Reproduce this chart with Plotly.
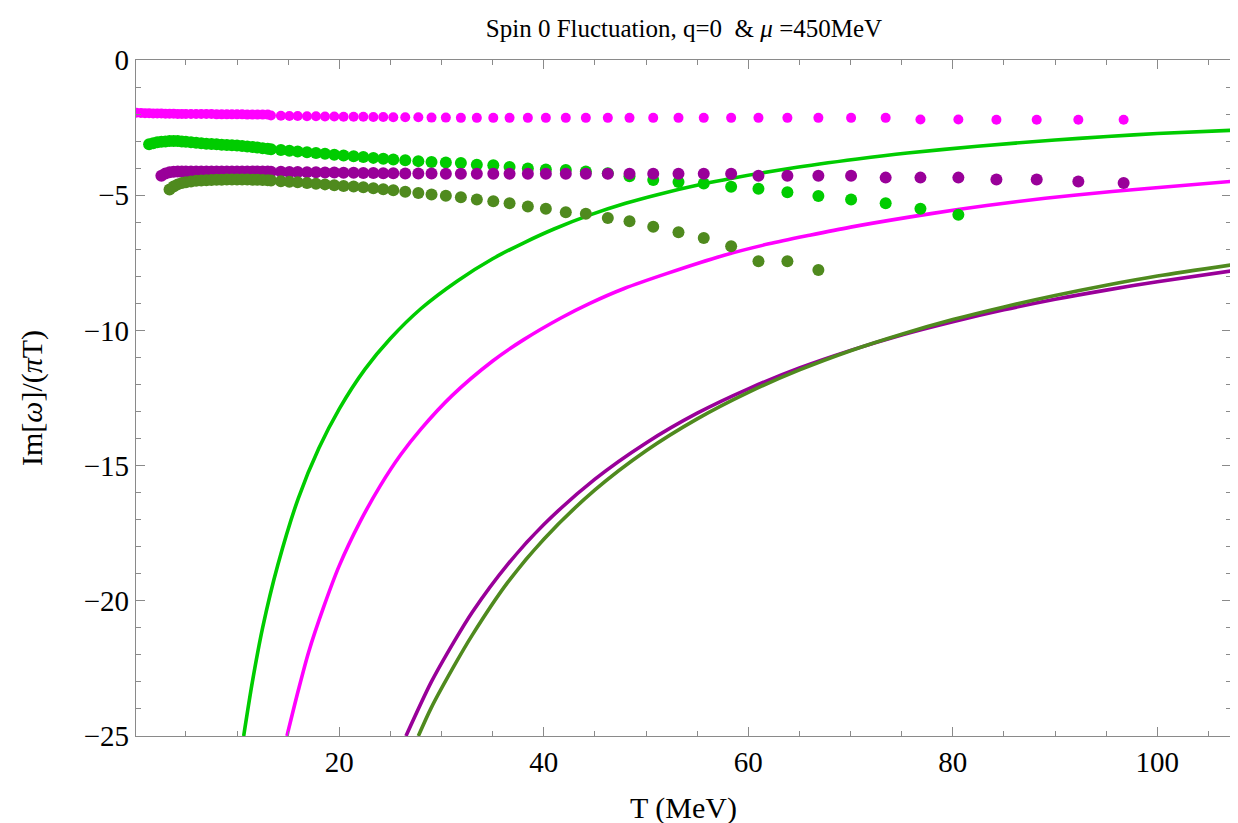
import plotly.graph_objects as go

# ---------------- data ----------------
# shared temperature grid of the dot series (MeV)
T_dots = [0.15, 0.6, 1.0, 1.4, 1.8, 2.2, 2.6, 3.0, 3.4, 3.8, 4.2, 4.6, 5.0, 5.5, 6.0,
          6.5, 7.0, 7.5, 8.0, 8.5, 9.0, 9.5, 10.0, 10.5, 11.0, 11.5, 12.0, 12.5, 13.0,
          13.32, 14.29, 15.12, 15.93, 16.84, 17.72, 18.6, 19.51, 20.42, 21.4, 22.35,
          23.33, 24.3, 25.28, 26.45, 27.73, 29.02, 30.42,
          31.89, 33.45, 35.06, 36.65, 38.44, 40.2, 42.15, 44.11, 46.26, 48.38, 50.7,
          53.17, 55.64, 58.32, 60.99, 63.82, 66.85, 70.05, 73.43, 76.83, 80.54, 84.26,
          88.2, 92.27, 96.7]

# magenta dots (all grid points)
mag_dots = [-1.95, -1.96, -1.97, -1.97, -1.98, -1.98, -1.98, -1.99, -1.99, -1.99, -2.0,
            -2.0, -2.0, -2.0, -2.0, -2.0, -2.0, -2.0, -2.01, -2.01, -2.01, -2.01, -2.01,
            -2.01, -2.02, -2.02, -2.02, -2.02, -2.02,
            -2.05, -2.06, -2.07, -2.07, -2.08, -2.08, -2.09, -2.09, -2.10, -2.10, -2.10,
            -2.11, -2.11, -2.12, -2.12, -2.12, -2.13, -2.13,
            -2.14, -2.14, -2.14, -2.14, -2.14, -2.14, -2.14, -2.14, -2.14, -2.14, -2.14,
            -2.14, -2.14, -2.14, -2.14, -2.14, -2.14, -2.14, -2.14, -2.20, -2.20, -2.21,
            -2.21, -2.21, -2.21]
mag_start = 0

# bright green dots (from T=1.4 up to T=80.54)
grn_dots = [-3.12, -3.08, -3.04, -3.02, -3.01, -3.0, -3.0, -3.0, -3.01, -3.02, -3.04,
            -3.06, -3.08, -3.10, -3.11, -3.12, -3.13, -3.14, -3.15, -3.16, -3.18, -3.20,
            -3.22, -3.24, -3.26, -3.28,
            -3.30, -3.33, -3.36, -3.38, -3.41, -3.44, -3.47, -3.50, -3.53, -3.56, -3.59,
            -3.62, -3.65, -3.68, -3.71, -3.74, -3.77, -3.79,
            -3.81, -3.87, -3.89, -3.96, -4.01, -4.05, -4.07, -4.12, -4.19, -4.30, -4.44,
            -4.51, -4.57, -4.69, -4.76, -4.89, -5.03, -5.16, -5.30, -5.50, -5.72]
grn_start = 3

# purple dots (from T=2.6 up to T=96.7)
pur_dots = [-4.28, -4.20, -4.15, -4.13, -4.12, -4.12, -4.12, -4.12, -4.12, -4.12, -4.12,
            -4.12, -4.12, -4.12, -4.12, -4.12, -4.12, -4.12, -4.12, -4.12, -4.12, -4.12,
            -4.12,
            -4.13, -4.13, -4.14, -4.14, -4.15, -4.15, -4.16, -4.16, -4.17, -4.17, -4.18,
            -4.18, -4.19, -4.19, -4.20, -4.20, -4.20, -4.21,
            -4.21, -4.21, -4.21, -4.21, -4.21, -4.21, -4.21, -4.21, -4.21, -4.21, -4.21,
            -4.21, -4.21, -4.21, -4.28, -4.28, -4.28, -4.28, -4.35, -4.35, -4.35, -4.42,
            -4.42, -4.49, -4.55]
pur_start = 6

# olive dots (from T=3.4 up to T=66.85)
olv_dots = [-4.79, -4.68, -4.60, -4.55, -4.52, -4.49, -4.47, -4.46, -4.45, -4.44, -4.43,
            -4.43, -4.42, -4.42, -4.42, -4.42, -4.42, -4.43, -4.43, -4.44, -4.45,
            -4.46, -4.48, -4.50, -4.52, -4.55, -4.58, -4.60, -4.63, -4.66, -4.68, -4.71,
            -4.74, -4.78, -4.82, -4.87, -4.92, -4.97, -5.02,
            -5.08, -5.16, -5.22, -5.30, -5.42, -5.50, -5.63, -5.69, -5.84, -5.96, -6.17,
            -6.37, -6.58, -6.89, -7.44, -7.44, -7.77]
olv_start = 8

# curves
grn_line_T = [10.65, 11.5, 12.5, 14.0, 16.0, 18.0, 20.0, 22.5, 25.0, 28.0, 31.55, 35.0,
              38.1, 41.0, 44.6, 48.0, 51.1, 55.64, 58.3, 64.15, 70.67, 75.56, 82.4, 90.0,
              95.1, 100.0, 107.2]
grn_line_v = [-25.0, -23.0, -21.0, -18.66, -16.2, -14.36, -12.9, -11.44, -10.3, -9.19,
              -8.17, -7.35, -6.75, -6.25, -5.72, -5.3, -4.98, -4.58, -4.38, -4.0, -3.66,
              -3.44, -3.19, -2.96, -2.83, -2.72, -2.6]

mag_line_T = [14.88, 16.0, 17.0, 18.5, 20.0, 22.0, 24.0, 26.0, 28.0, 31.0, 35.0, 38.0,
              41.67, 44.5, 47.86, 52.0, 57.64, 62.0, 66.0, 70.0, 75.56, 80.5, 86.0,
              91.85, 99.0, 107.2]
mag_line_v = [-25.0, -23.3, -21.9, -20.2, -18.7, -17.1, -15.75, -14.6, -13.64, -12.42,
              -11.13, -10.35, -9.54, -9.0, -8.45, -7.9, -7.22, -6.8, -6.48, -6.18, -5.82,
              -5.53, -5.25, -5.0, -4.75, -4.49]

pur_line_T = [26.52, 29.0, 31.24, 33.0, 36.45, 40.0, 45.0, 50.0, 55.0, 60.0, 65.0, 70.0,
              75.0, 80.0, 85.0, 90.0, 95.0, 100.0, 107.2]
pur_line_v = [-25.0, -23.0, -21.5, -20.42, -18.66, -17.18, -15.5, -14.16, -13.06, -12.16,
              -11.39, -10.74, -10.17, -9.68, -9.24, -8.85, -8.51, -8.2, -7.8]

olv_line_T = [27.73, 29.0, 31.24, 33.0, 36.45, 40.0, 45.0, 50.0, 55.0, 60.0, 65.0, 70.0,
              75.0, 80.0, 85.0, 90.0, 95.0, 100.0, 107.2]
olv_line_v = [-25.0, -23.95, -22.4, -21.27, -19.33, -17.72, -15.9, -14.45, -13.27, -12.29,
              -11.46, -10.75, -10.14, -9.6, -9.13, -8.71, -8.33, -7.99, -7.58]

x_ticks = [20, 40, 60, 80, 100]
y_ticks = [0, -5, -10, -15, -20, -25]

# ---------------- styling ----------------
C_MAG = "#FF00FF"
C_GRN = "#00CC00"
C_PUR = "#990099"
C_OLV = "#4F8A1E"
FONT = "Liberation Serif"
AX = "#8a8a8a"

fig = go.Figure()

for T, v, c in [(grn_line_T, grn_line_v, C_GRN), (mag_line_T, mag_line_v, C_MAG),
                (pur_line_T, pur_line_v, C_PUR), (olv_line_T, olv_line_v, C_OLV)]:
    fig.add_trace(go.Scatter(x=T, y=v, mode="lines",
                             line=dict(color=c, width=3.6, shape="spline", smoothing=0.8),
                             showlegend=False, hoverinfo="skip"))

for start, v, c, sz in [(mag_start, mag_dots, C_MAG, 10), (grn_start, grn_dots, C_GRN, 12),
                        (pur_start, pur_dots, C_PUR, 12), (olv_start, olv_dots, C_OLV, 12)]:
    fig.add_trace(go.Scatter(x=T_dots[start:start + len(v)], y=v, mode="markers",
                             marker=dict(color=c, size=sz, line=dict(width=0)),
                             showlegend=False, cliponaxis=True))

axis_common = dict(showline=True, linecolor=AX, linewidth=1.3, mirror="ticks",
                   ticks="inside", tickcolor=AX, tickwidth=1.2, ticklen=9,
                   showgrid=False, zeroline=False,
                   tickfont=dict(family=FONT, size=29, color="#000"))

fig.update_xaxes(range=[0.12, 107.2], tickvals=x_ticks,
                 minor=dict(ticks="inside", ticklen=5, tickcolor=AX, dtick=5, tick0=0, showgrid=False),
                 title=dict(text="T (MeV)", font=dict(family=FONT, size=30, color="#000"), standoff=20),
                 **axis_common)
fig.update_yaxes(range=[-25, 0], tickvals=y_ticks,
                 minor=dict(ticks="inside", ticklen=5, tickcolor=AX, dtick=1, tick0=0, showgrid=False),
                 title=dict(text="Im[<i>ω</i>]/(<i>π</i>T)", font=dict(family=FONT, size=30, color="#000"), standoff=32),
                 **axis_common)

fig.update_layout(
    width=1238, height=823,
    margin=dict(l=128, r=15, t=52, b=95),
    plot_bgcolor="white", paper_bgcolor="white",
    title=dict(text="Spin 0 Fluctuation, q=0 &nbsp;&amp; <i>μ</i> =450MeV",
               font=dict(family=FONT, size=25, color="#000"),
               x=0.546, xanchor="center", y=0.976, yanchor="middle"),
)

fig.write_html("out.html")
